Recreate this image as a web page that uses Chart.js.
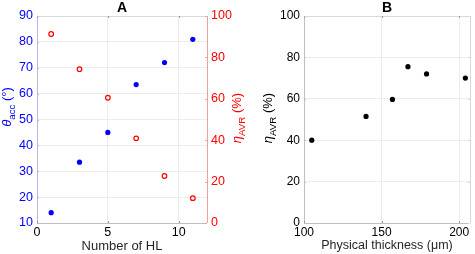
<!DOCTYPE html>
<html>
<head>
<meta charset="utf-8">
<script src="https://cdn.jsdelivr.net/npm/chart.js@4"></script>
<style>
  body { margin: 0; background: #fff; }
  #wrap { position: relative; width: 475px; height: 254px; overflow: hidden; }
  canvas { position: absolute; top: 0; }
  #chartA { left: 0; }
  #chartB { left: 240px; }
</style>
</head>
<body>
<div id="wrap">
  <canvas id="chartA" width="250" height="254"></canvas>
  <canvas id="chartB" width="235" height="254"></canvas>
</div>
<script>
// Panel A data
const hlCount = [1, 3, 5, 7, 9, 11];
const thetaAcc = [14, 33.5, 45, 63.5, 72, 81];
const etaAvrA = [91.3, 74.3, 60.5, 40.9, 22.7, 12];

// Panel B data
const thickness = [105, 140, 157, 167, 179, 204];
const etaAvrB = [40, 51.5, 59.7, 75.5, 72, 70];

const FONT = 'Liberation Sans, Arial, Helvetica, sans-serif';
const BLUE = '#0000ff';
const RED = '#ff0000';
const GRID = '#ececec';

function toPts(xs, ys) {
  return xs.map((x, i) => ({ x: x, y: ys[i] }));
}

// draw text with a subscript part, rotated or not
function drawSub(ctx, parts, x, y, rotate, color, size) {
  ctx.save();
  ctx.translate(x, y);
  if (rotate) ctx.rotate(-Math.PI / 2);
  ctx.fillStyle = color;
  ctx.textAlign = 'left';
  ctx.textBaseline = 'alphabetic';
  let total = 0;
  parts.forEach(p => {
    ctx.font = (p.italic ? 'italic ' : '') + (p.sub ? size * 0.75 : size) + 'px ' + FONT;
    total += ctx.measureText(p.t).width;
  });
  let cx = -total / 2;
  parts.forEach(p => {
    ctx.font = (p.italic ? 'italic ' : '') + (p.sub ? size * 0.75 : size) + 'px ' + FONT;
    ctx.fillText(p.t, cx, p.sub ? size * 0.3 : 0);
    cx += ctx.measureText(p.t).width;
  });
  ctx.restore();
}

function line(ctx, color, x1, y1, x2, y2) {
  ctx.strokeStyle = color;
  ctx.beginPath();
  ctx.moveTo(x1, y1);
  ctx.lineTo(x2, y2);
  ctx.stroke();
}

// frame, small inward ticks, panel titles, axis titles
const framePlugin = {
  id: 'frame',
  afterDraw(chart, args, opts) {
    const { ctx, chartArea: a, scales } = chart;
    ctx.save();
    ctx.lineWidth = 1;
    line(ctx, opts.top, a.left, a.top + 0.5, a.right, a.top + 0.5);
    line(ctx, opts.bottom, a.left, a.bottom + 0.5, a.right, a.bottom + 0.5);
    line(ctx, opts.left, a.left + 0.5, a.top, a.left + 0.5, a.bottom);
    line(ctx, opts.right, a.right + 0.5, a.top, a.right + 0.5, a.bottom);

    // inward ticks
    scales.x.ticks.forEach(t => {
      const px = Math.round(scales.x.getPixelForValue(t.value)) + 0.5;
      line(ctx, '#999', px, a.bottom, px, a.bottom - 2);
      line(ctx, '#999', px, a.top, px, a.top + 2);
    });
    scales.y.ticks.forEach(t => {
      const py = Math.round(scales.y.getPixelForValue(t.value)) + 0.5;
      line(ctx, opts.left, a.left, py, a.left + 2, py);
      if (!scales.y1) line(ctx, opts.right, a.right, py, a.right - 2, py);
    });
    if (scales.y1) {
      scales.y1.ticks.forEach(t => {
        const py = Math.round(scales.y1.getPixelForValue(t.value)) + 0.5;
        line(ctx, opts.right, a.right, py, a.right - 2, py);
      });
    }

    ctx.fillStyle = '#000';
    ctx.font = 'bold 14px ' + FONT;
    ctx.textAlign = 'center';
    ctx.textBaseline = 'middle';
    ctx.fillText(opts.title, (a.left + a.right) / 2, 8);

    ctx.font = opts.xSize + 'px ' + FONT;
    ctx.fillStyle = '#262626';
    ctx.fillText(opts.xTitle, (a.left + a.right) / 2, 246);
    opts.drawTitles(ctx, a);
    ctx.restore();
  }
};

const chartA = new Chart(document.getElementById('chartA'), {
  type: 'scatter',
  data: {
    datasets: [{
      data: toPts(hlCount, thetaAcc),
      yAxisID: 'y',
      pointRadius: 2.6,
      pointBackgroundColor: BLUE,
      pointBorderColor: BLUE,
      pointBorderWidth: 0
    }, {
      data: toPts(hlCount, etaAvrA),
      yAxisID: 'y1',
      pointRadius: 2.3,
      pointBackgroundColor: 'rgba(0,0,0,0)',
      pointBorderColor: RED,
      pointBorderWidth: 1.2
    }]
  },
  options: {
    responsive: false,
    animation: false,
    layout: { padding: { top: 16 } },
    plugins: {
      legend: { display: false },
      tooltip: { enabled: false },
      frame: {
        title: 'A', xTitle: 'Number of HL',
        top: '#d9d9d9', bottom: '#bfbfbf', left: '#b8b8e8', right: '#f0a0a0', xSize: 13,
        drawTitles(ctx, a) {
          drawSub(ctx, [{ t: 'θ', italic: true }, { t: 'acc', sub: true }, { t: ' (°)' }], 11, 107, true, BLUE, 13);
          drawSub(ctx, [{ t: 'η', italic: true }, { t: 'AVR', sub: true }, { t: ' (%)' }], 241, 118, true, RED, 13);
        }
      }
    },
    scales: {
      x: {
        type: 'linear', min: 0, max: 12,
        afterFit: s => { s.height = 31; },
        afterBuildTicks: s => { s.ticks = [0, 5, 10].map(v => ({ value: v })); },
        grid: { color: GRID, drawTicks: false },
        border: { display: false },
        ticks: { color: '#000', padding: 2, font: { family: FONT, size: 12.5 } }
      },
      y: {
        position: 'left', min: 10, max: 90,
        afterFit: s => { s.width = 37; },
        grid: { color: GRID, drawTicks: false },
        border: { display: false },
        ticks: { stepSize: 10, color: BLUE, padding: 4, font: { family: FONT, size: 12.5 } }
      },
      y1: {
        position: 'right', min: 0, max: 100,
        afterFit: s => { s.width = 43; },
        grid: { display: false, drawTicks: false },
        border: { display: false },
        ticks: { stepSize: 20, color: RED, padding: 4, font: { family: FONT, size: 12.5 } }
      }
    }
  },
  plugins: [framePlugin]
});

const chartB = new Chart(document.getElementById('chartB'), {
  type: 'scatter',
  data: {
    datasets: [{
      data: toPts(thickness, etaAvrB),
      pointRadius: 2.6,
      pointBackgroundColor: '#000',
      pointBorderColor: '#000',
      pointBorderWidth: 0
    }]
  },
  options: {
    responsive: false,
    animation: false,
    layout: { padding: { top: 16, right: 5 } },
    plugins: {
      legend: { display: false },
      tooltip: { enabled: false },
      frame: {
        title: 'B', xTitle: 'Physical thickness (μm)',
        top: '#d9d9d9', bottom: '#bfbfbf', left: '#bfbfbf', right: '#d9d9d9', xSize: 12.5,
        drawTitles(ctx, a) {
          drawSub(ctx, [{ t: 'η', italic: true }, { t: 'AVR', sub: true }, { t: ' (%)' }], 32, 118, true, '#000', 13);
        }
      }
    },
    scales: {
      x: {
        type: 'linear', min: 100, max: 207,
        afterFit: s => { s.height = 31; },
        afterBuildTicks: s => { s.ticks = [100, 150, 200].map(v => ({ value: v })); },
        grid: { color: GRID, drawTicks: false },
        border: { display: false },
        ticks: { color: '#000', padding: 2, font: { family: FONT, size: 12 } }
      },
      y: {
        min: 0, max: 100,
        afterFit: s => { s.width = 64; },
        grid: { color: GRID, drawTicks: false },
        border: { display: false },
        ticks: { stepSize: 20, color: '#000', padding: 4, font: { family: FONT, size: 12 } }
      }
    }
  },
  plugins: [framePlugin]
});
</script>
</body>
</html>
